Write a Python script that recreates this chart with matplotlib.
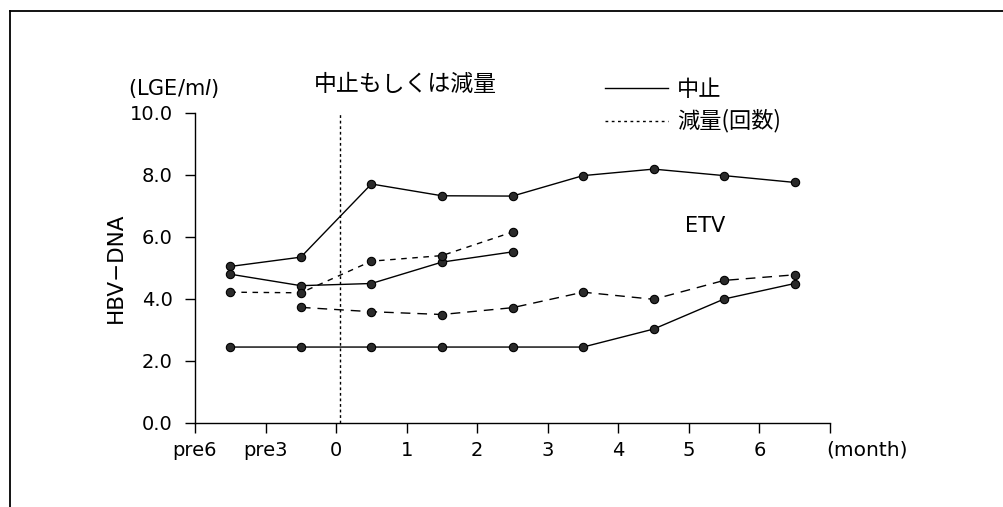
import matplotlib
matplotlib.use("Agg")
import matplotlib.pyplot as plt
from matplotlib.lines import Line2D

# ---- data ----
months = [-1.5, -0.5, 0.5, 1.5, 2.5, 3.5, 4.5, 5.5, 6.5]
tick_pos = [-2, -1, 0, 1, 2, 3, 4, 5, 6, 7]
tick_labels = ["pre6", "pre3", "0", "1", "2", "3", "4", "5", "6", ""]
y_ticks = [0, 2, 4, 6, 8, 10]

stop_high = [5.05, 5.35, 7.71, 7.33, 7.32, 7.98, 8.19, 7.98, 7.76]
stop_mid = [4.80, 4.43, 4.50, 5.19, 5.52]
reduce_short = [4.22, 4.20, 5.22, 5.40, 6.16]
reduce_long = [3.73, 3.59, 3.50, 3.72, 4.22, 3.99, 4.60, 4.78]
stop_low = [2.45, 2.45, 2.45, 2.45, 2.45, 2.45, 3.03, 4.00, 4.50]

cut_x = 0.05

JP = ["Noto Sans CJK JP", "DejaVu Sans"]

fig = plt.figure(figsize=(10.04, 5.07), dpi=100)
ax = fig.add_axes([195 / 1004, 1 - 423 / 507, (830 - 195) / 1004, (423 - 113) / 507])

mk = dict(marker="o", markersize=6, markerfacecolor="#2a2a2a",
          markeredgecolor="black", markeredgewidth=0.8, color="black", lw=1.0)

ax.plot(months, stop_high, linestyle="-", **mk)
ax.plot(months[:5], stop_mid, linestyle="-", **mk)
ax.plot(months, stop_low, linestyle="-", **mk)
ax.plot(months[:5], reduce_short, linestyle=(0, (4, 4)), **mk)
ax.plot(months[1:], reduce_long, linestyle=(0, (7, 5)), **mk)

ax.axvline(cut_x, ymin=0, ymax=1, color="black", lw=1.0, linestyle=(0, (2, 2)))

ax.set_xlim(-2, 7)
ax.set_ylim(0, 10)
ax.set_xticks(tick_pos)
ax.set_xticklabels(tick_labels, fontsize=14)
ax.set_yticks(y_ticks)
ax.set_yticklabels([f"{v:.1f}" for v in y_ticks], fontsize=14)
ax.tick_params(axis="y", direction="out", length=7, width=1, pad=9)
ax.tick_params(axis="x", direction="out", length=7, width=1, pad=6)
for s in ["top", "right"]:
    ax.spines[s].set_visible(False)
for s in ["left", "bottom"]:
    ax.spines[s].set_linewidth(1.0)

ax.set_ylabel("HBV\u2212DNA", fontsize=15.5, labelpad=3)

# texts
fig.text(128 / 1004, 1 - 88 / 507, "(LGE/m$\\mathit{l}$)", fontsize=15,
         ha="left", va="center")
fig.text(405 / 1004, 1 - 84 / 507, "中止もしくは減量", fontsize=16.5,
         ha="center", va="center", family=JP)
fig.text(826 / 1004, 1 - 450 / 507, "(month)", fontsize=14.5,
         ha="left", va="center")
ax.text(5.23, 6.35, "ETV", fontsize=15, ha="center", va="center")

# legend drawn manually
fig.add_artist(Line2D([605 / 1004, 668 / 1004], [1 - 88 / 507, 1 - 88 / 507],
                      color="black", lw=1.0, transform=fig.transFigure))
fig.add_artist(Line2D([605 / 1004, 668 / 1004], [1 - 121 / 507, 1 - 121 / 507],
                      color="black", lw=1.0, linestyle=(0, (2, 2.5)),
                      transform=fig.transFigure))
fig.text(677 / 1004, 1 - 90 / 507, "中止", fontsize=16, ha="left",
         va="center", family=JP)
fig.text(677 / 1004, 1 - 121 / 507, "減量(回数)", fontsize=16, ha="left",
         va="center", family=JP)

# outer frame (top and left edges)
fig.add_artist(Line2D([10 / 1004, 1.0], [1 - 11 / 507, 1 - 11 / 507],
                      color="black", lw=1.3, transform=fig.transFigure))
fig.add_artist(Line2D([10 / 1004, 10 / 1004], [0.0, 1 - 11 / 507],
                      color="black", lw=1.3, transform=fig.transFigure))

fig.savefig("out.png", dpi=100)
